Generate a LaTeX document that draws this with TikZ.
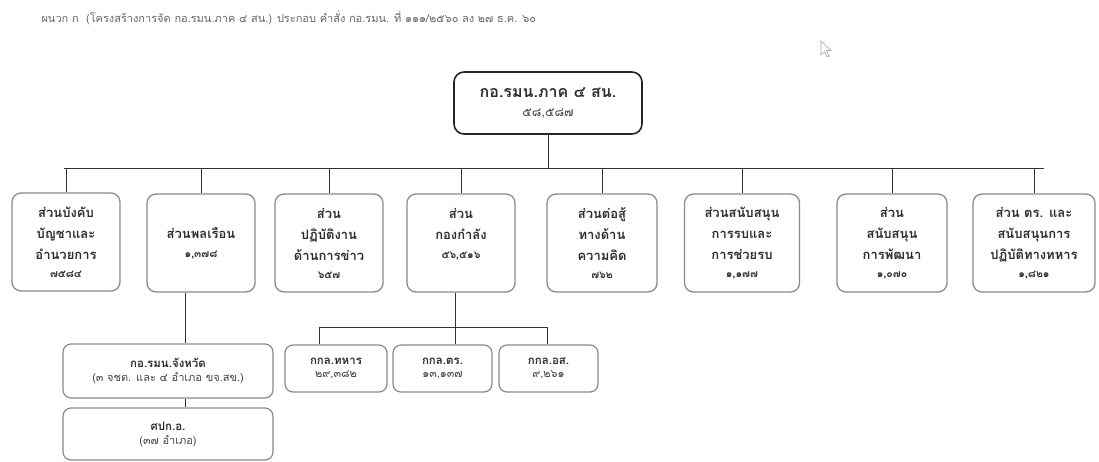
\documentclass[tikz,border=0pt]{standalone}
\usepackage{fontspec}
\newfontfamily\thaifont[Script=Thai]{Loma}
\definecolor{boxline}{HTML}{8A8A8A}
\definecolor{txt}{HTML}{2E2E2E}
\definecolor{numtxt}{HTML}{444444}
\tikzset{
  unitbox/.style={draw=boxline, line width=1.3pt, rounded corners=9pt, fill=white,
    align=center, inner sep=2pt, font=\thaifont\bfseries\fontsize{13}{21}\selectfont, text=txt},
  subbox/.style={draw=boxline, line width=1.2pt, rounded corners=8pt, fill=white,
    align=center, inner sep=2pt, font=\thaifont\bfseries\fontsize{11.5}{17}\selectfont, text=txt},
  headbox/.style={draw=black!85, line width=1.6pt, rounded corners=10pt, fill=white,
    align=center, font=\thaifont\bfseries\fontsize{16}{22}\selectfont, text=txt},
  link/.style={draw=black!80, line width=0.9pt},
}
\newcommand{\numl}[1]{{\fontsize{10.5}{12}\selectfont #1}}
\newcommand{\lite}[1]{{\mdseries\fontsize{11}{12}\selectfont\color{numtxt} #1}}
\newcommand{\headnum}[1]{{\mdseries\fontsize{12.5}{14}\selectfont\color{numtxt} #1}}
\begin{document}
\begin{tikzpicture}[x=1pt,y=-1pt]
\useasboundingbox (0,0) rectangle (1099,461);
% title
\node[anchor=west, font=\thaifont\fontsize{11}{13}\selectfont, text=black!60] (title) at (38,18)
  {ผนวก ก\ \ (โครงสร้างการจัด กอ.รมน.ภาค ๔ สน.) ประกอบ คำสั่ง กอ.รมน. ที่ ๑๑๑/๒๕๖๐ ลง ๒๗ ธ.ค. ๖๐};
% pointer
\draw[black!35, line width=0.6pt, fill=white] (821,41) -- (821,55) -- (824.5,51.5) -- (827,57) -- (829,56) -- (826.5,50.5) -- (831,50.5) -- cycle;
% head
\node[headbox, minimum width=188pt, minimum height=62pt] (top) at (548,103)
  {กอ.รมน.ภาค ๔ สน.\\[-3pt]\headnum{๕๘,๕๘๗}};
% bus
\coordinate (busL) at (64,168);
\coordinate (busR) at (1044,168);
\draw[link] (busL) -- (busR);
\draw[link] (top.south) -- (top.south |- busL);
% units
\node[unitbox, minimum width=108pt, minimum height=98pt] (b1) at (66,242)
  {ส่วนบังคับ\\บัญชาและ\\อำนวยการ\\[-3pt]\numl{๗๕๘๔}};
\node[unitbox, minimum width=108pt, minimum height=98pt] (b2) at (201,243)
  {ส่วนพลเรือน\\[-2pt]\numl{๑,๓๗๘}};
\node[unitbox, minimum width=108pt, minimum height=98pt] (b3) at (329,243)
  {ส่วน\\ปฏิบัติงาน\\ด้านการข่าว\\[-3pt]\numl{๖๕๗}};
\node[unitbox, minimum width=108pt, minimum height=98pt] (b4) at (461,243)
  {ส่วน\\กองกำลัง\\[-2pt]\numl{๕๖,๕๑๖}\\[-2pt]\mbox{}};
\node[unitbox, minimum width=110pt, minimum height=98pt] (b5) at (602,243)
  {ส่วนต่อสู้\\ทางด้าน\\ความคิด\\[-3pt]\numl{๗๖๒}};
\node[unitbox, minimum width=115pt, minimum height=98pt] (b6) at (742,243)
  {ส่วนสนับสนุน\\การรบและ\\การช่วยรบ\\[-3pt]\numl{๑,๑๗๗}};
\node[unitbox, minimum width=110pt, minimum height=98pt] (b7) at (892,243)
  {ส่วน\\สนับสนุน\\การพัฒนา\\[-3pt]\numl{๑,๐๗๐}};
\node[unitbox, minimum width=122pt, minimum height=98pt] (b8) at (1034,243)
  {ส่วน ตร. และ\\สนับสนุนการ\\ปฏิบัติทางทหาร\\[-3pt]\numl{๑,๘๒๑}};
\foreach \b in {b1,b2,b3,b4,b5,b6,b7,b8}
  \draw[link] (\b.north) -- (\b.north |- busL);
% provincial branch
\coordinate (pv) at (185,0);
\node[subbox, minimum width=210pt, minimum height=54pt] (prov) at (168,371)
  {กอ.รมน.จังหวัด\\[-3pt]\lite{(๓ จชต. และ ๔ อำเภอ ขจ.สข.)}};
\node[subbox, minimum width=210pt, minimum height=52pt] (dist) at (168,434)
  {ศปก.อ.\\[-3pt]\lite{(๓๗ อำเภอ)}};
\draw[link] (b2.south -| pv) -- (prov.north -| pv);
\draw[link] (prov.south -| pv) -- (dist.north -| pv);
% forces branch
\coordinate (fbus) at (455,327);
\coordinate (fL) at (319,327);
\coordinate (fR) at (547,327);
\node[subbox, minimum width=102pt, minimum height=47pt] (f1) at (336,368.5)
  {กกล.ทหาร\\[-4pt]\lite{๒๙,๓๘๒}};
\node[subbox, minimum width=99pt, minimum height=47pt] (f2) at (442.5,368.5)
  {กกล.ตร.\\[-4pt]\lite{๑๓,๑๓๗}};
\node[subbox, minimum width=99pt, minimum height=47pt] (f3) at (548.5,368.5)
  {กกล.อส.\\[-4pt]\lite{๙,๒๖๑}};
\draw[link] (b4.south -| fbus) -- (fbus);
\draw[link] (fL) -- (fR);
\draw[link] (fL) -- (f1.north -| fL);
\draw[link] (fbus) -- (f2.north -| fbus);
\draw[link] (fR) -- (f3.north -| fR);
\end{tikzpicture}
\end{document}
